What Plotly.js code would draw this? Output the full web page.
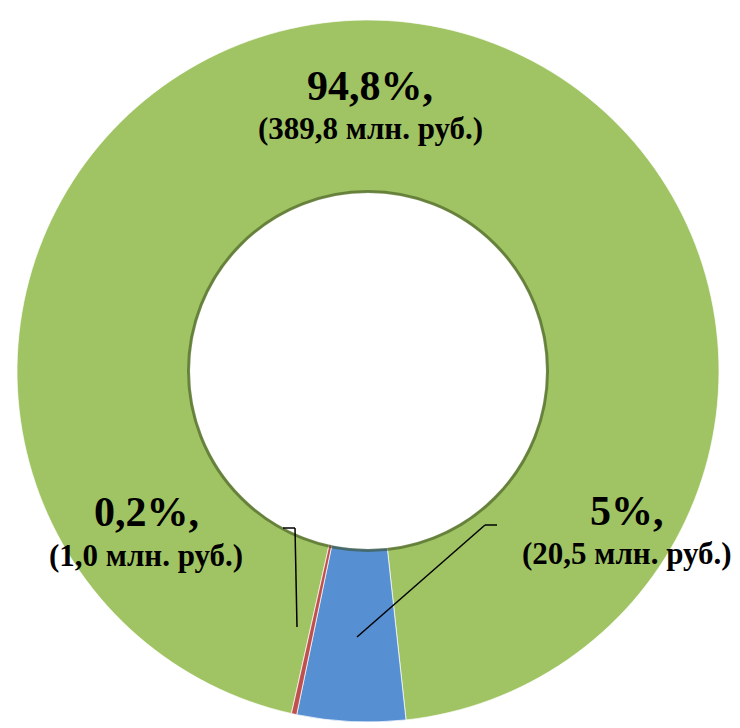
<!DOCTYPE html>
<html>
<head>
<meta charset="utf-8">
<script src="https://cdn.plot.ly/plotly-3.0.1.min.js"></script>
<style>html,body{margin:0;padding:0;background:#fff;}#chart{width:740px;height:728px;}</style>
</head>
<body>
<div id="chart"></div>
<script>
// Data
var categories = ["Группа A", "Группа B", "Группа C"];
var valuesMln = [389.8, 20.5, 1.0];
var percentLabels = ["94,8%", "5%", "0,2%"];
var sliceColors = ["#A0C463", "#578FD3", "#C0504D"];

function fmt(v) { return v.toFixed(1).replace(".", ","); }

var W = 740, H = 728;
function px(x) { return x / W; }
function py(y) { return 1 - y / H; }

// label positions (pixels) for each category
var labelPos = [
  {x: 370, y1: 86, y2: 128},
  {x: 627, y1: 511, y2: 553},
  {x: 146, y1: 512, y2: 555}
];

var annotations = [];
for (var i = 0; i < categories.length; i++) {
  annotations.push({
    xref: "paper", yref: "paper", x: px(labelPos[i].x), y: py(labelPos[i].y1),
    text: "<b>" + percentLabels[i] + ",</b>", showarrow: false,
    font: {family: "Liberation Serif", size: 42, color: "#000"},
    xanchor: "center", yanchor: "middle"
  });
  annotations.push({
    xref: "paper", yref: "paper", x: px(labelPos[i].x), y: py(labelPos[i].y2),
    text: "<b>(" + fmt(valuesMln[i]) + " млн. руб.)</b>", showarrow: false,
    font: {family: "Liberation Serif", size: 31, color: "#000"},
    xanchor: "center", yanchor: "middle"
  });
}

function seg(x0, y0, x1, y1) {
  return {type: "line", xref: "paper", yref: "paper",
    x0: px(x0), y0: py(y0), x1: px(x1), y1: py(y1),
    line: {color: "#000", width: 1.5}};
}

var cx = 368, cy = 371, rHole = 179.5;
var shapes = [
  {type: "circle", xref: "paper", yref: "paper", layer: "above",
    x0: px(cx - rHole), x1: px(cx + rHole), y0: py(cy + rHole), y1: py(cy - rHole),
    line: {color: "rgba(55,75,25,0.55)", width: 3}},
  seg(497, 525, 485, 525), seg(485, 525, 357, 637),
  seg(283, 528, 295, 528), seg(295, 528, 297, 627)
];

var trace = {
  type: "pie",
  labels: categories,
  values: valuesMln,
  sort: false,
  direction: "clockwise",
  rotation: 192.6,
  hole: 0.507,
  textinfo: "none",
  hoverinfo: "none",
  marker: {colors: sliceColors, line: {color: "rgba(255,255,255,0.7)", width: 1}},
  domain: {x: [17 / W, 719 / W], y: [1 - 722 / H, 1 - 20 / H]},
  showlegend: false
};

var layout = {
  width: W, height: H,
  margin: {l: 0, r: 0, t: 0, b: 0},
  paper_bgcolor: "#fff",
  showlegend: false,
  annotations: annotations,
  shapes: shapes
};

Plotly.newPlot("chart", [trace], layout, {displayModeBar: false, staticPlot: true});
</script>
</body>
</html>
